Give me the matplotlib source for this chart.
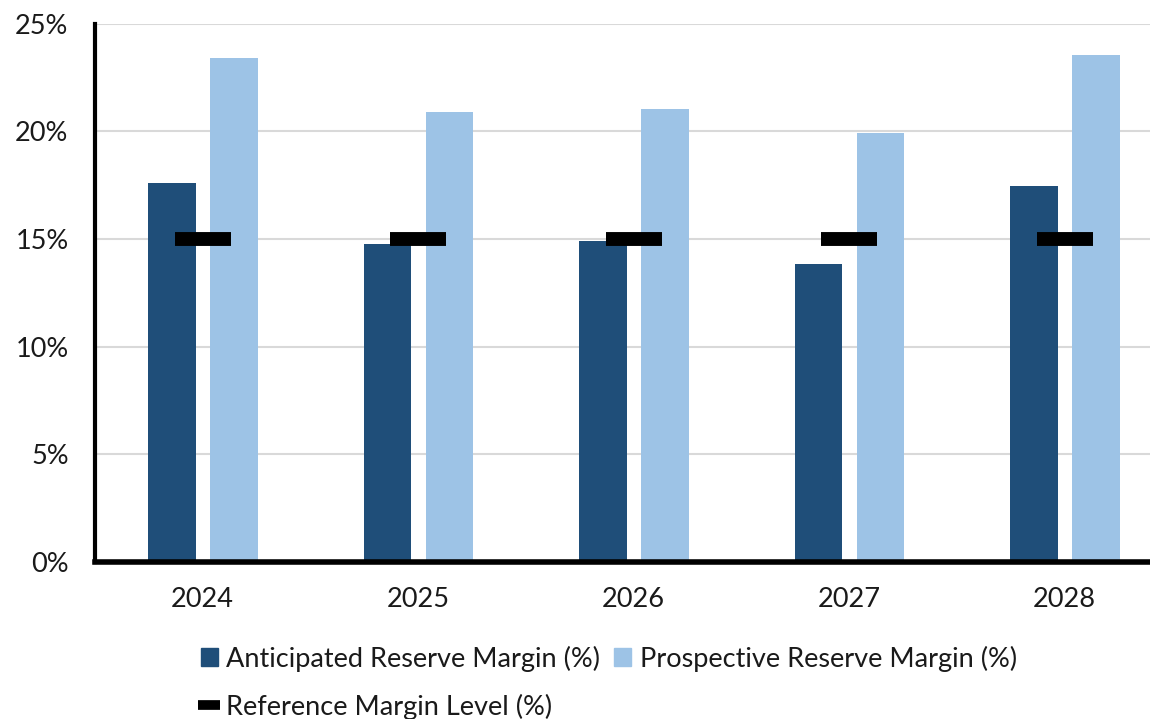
import matplotlib
matplotlib.use("Agg")
import matplotlib.pyplot as plt
import numpy as np
from matplotlib.lines import Line2D
from matplotlib.patches import Patch
from matplotlib.ticker import FuncFormatter

years = ["2024", "2025", "2026", "2027", "2028"]
anticipated = [17.6, 14.75, 14.9, 13.85, 17.45]
prospective = [23.4, 20.9, 21.05, 19.95, 23.55]
reference = [15.0, 15.0, 15.0, 15.0, 15.0]

DARK = "#1F4E79"
LIGHT = "#9DC3E6"

plt.rcParams["font.family"] = ["Lato", "DejaVu Sans"]

fig = plt.figure(figsize=(11.5, 7.19), dpi=100)
ax = fig.add_axes([0.0826, 0.219, 0.9174, 0.7477])

x = np.arange(len(years))
w = 0.22
ax.bar(x - 0.142, anticipated, width=w, color=DARK, zorder=2)
ax.bar(x + 0.146, prospective, width=w, color=LIGHT, zorder=2)
ax.plot(x, reference, linestyle="none", marker="_", markersize=41,
        markeredgewidth=10, color="black", zorder=3)

ax.set_ylim(0, 25)
ax.set_xlim(-0.5, 4.396)
ax.set_yticks([0, 5, 10, 15, 20, 25])
ax.yaxis.set_major_formatter(FuncFormatter(lambda v, p: f"{v:.0f}%"))
ax.set_xticks(x)
ax.set_xticklabels(years)
ax.tick_params(axis="both", length=0, labelsize=19.5, colors="#1a1a1a")
ax.tick_params(axis="x", pad=18)
ax.tick_params(axis="y", pad=19)
ax.grid(axis="y", color="#D9D9D9", linewidth=1.5, zorder=0)
ax.set_axisbelow(True)

for side in ["top", "right"]:
    ax.spines[side].set_visible(False)
ax.spines["left"].set_linewidth(3)
ax.spines["bottom"].set_linewidth(4)

# order [A, R, P] so the 2-column legend puts A and P on the first row
handles = [
    Patch(color=DARK, label="Anticipated Reserve Margin (%)"),
    Line2D([], [], linestyle="none", marker="_", markersize=16,
           markeredgewidth=7, color="black", label="Reference Margin Level (%)"),
    Patch(color=LIGHT, label="Prospective Reserve Margin (%)"),
]
leg = fig.legend(handles=handles, ncol=2, loc="upper left",
                 bbox_to_anchor=(0.165, 0.117), frameon=False, fontsize=19.5,
                 handlelength=0.65, handleheight=0.65, handletextpad=0.3,
                 columnspacing=0.5, labelspacing=0.8, borderaxespad=0)
for t in leg.get_texts():
    t.set_color("#1a1a1a")

fig.savefig("out.png", dpi=100)
